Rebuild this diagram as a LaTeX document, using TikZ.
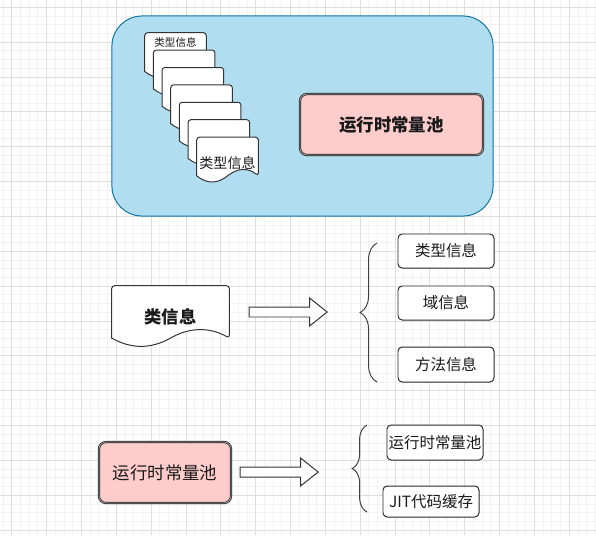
\documentclass[tikz,border=0pt]{standalone}
\usepackage{fontspec}
\setmainfont{Noto Sans CJK SC}
\usepackage{tikz}
\usetikzlibrary{arrows.meta,
                positioning,
                shapes.arrows,
                calc, backgrounds,
                decorations.pathreplacing}

\definecolor{areablue}{HTML}{B1DDF0}
\definecolor{areaedge}{HTML}{10739E}
\definecolor{poolpink}{HTML}{FFCCCC}

\pgfdeclarelayer{docs}
\pgfsetlayers{background,docs,main}

% 文档形状 (底边为波浪线)
\newcommand\docshape[1]{%
  \begin{pgfonlayer}{docs}
  \draw[docline] let \p1=(#1.south west), \p2=(#1.north east),
      \n1={0.3*(\y2-\y1)}, \n2={\x2-\x1} in
    (\x1,{\y1+0.5*\n1}) [rounded corners=2pt] -- (\x1,\y2) -- (\x2,\y2)
    -- (\x2,{\y1+0.5*\n1}) [sharp corners]
    .. controls ({\x2-\n2/6},{\y1+1.1*\n1}) and ({\x1+2*\n2/3},{\y1+1.1*\n1}) .. ({\x1+0.5*\n2},{\y1+0.5*\n1})
    .. controls ({\x1+\n2/3},{\y1-0.1*\n1}) and ({\x1+\n2/6},{\y1-0.1*\n1}) .. cycle;
  \end{pgfonlayer}}

\begin{document}
\begin{tikzpicture}[
        x=0.025cm, y=-0.025cm,
        font=\fontsize{11}{13}\selectfont,
        text=black!90,
        grid minor/.style={draw=black!5, line width=0.6pt},
        grid major/.style={draw=black!13, line width=0.6pt},
        area box/.style={
            rectangle,
            rounded corners=0.75cm,
            draw=areaedge,
            fill=areablue,
            line width=0.7pt,
            minimum width=9.525cm,
            minimum height=5cm
        },
        pool box/.style={
            rectangle,
            rounded corners=5pt,
            draw=black!85,
            double=black!40,
            double distance=0.6pt,
            fill=poolpink,
            line width=0.5pt,
            minimum height=1.525cm
        },
        doc box/.style={rectangle, inner sep=0pt},
        docline/.style={draw=black!80, fill=white, line width=0.7pt},
        info box/.style={
            rectangle,
            rounded corners=3pt,
            draw=black!85,
            fill=white,
            line width=0.7pt,
            inner xsep=1pt,
            minimum width=2.4cm
        },
        block arrow/.style={
            single arrow,
            draw=black!80,
            fill=white,
            line width=0.7pt,
            inner xsep=0pt,
            inner ysep=0.1125cm,
            minimum height=1.95cm,
            single arrow head extend=0.225cm,
            single arrow tip angle=77
        },
        bracket/.style={
            decorate,
            decoration={brace, amplitude=12pt},
            draw=black!75,
            line width=0.7pt
        }
    ]
    \useasboundingbox (0,0) rectangle (596,535);

    % 背景网格
    \begin{scope}[on background layer]
        \fill[white] (0,0) rectangle (596,535);
        \foreach \i in {-1,...,67}
            \draw[grid minor] ({11.7+8.7125*\i},0) -- ({11.7+8.7125*\i},535);
        \foreach \j in {-1,...,60}
            \draw[grid minor] (0,{7.3+8.7125*\j}) -- (596,{7.3+8.7125*\j});
        \foreach \i in {0,...,16}
            \draw[grid major] ({11.7+34.85*\i},0) -- ({11.7+34.85*\i},535);
        \foreach \j in {0,...,15}
            \draw[grid major] (0,{7.3+34.85*\j}) -- (596,{7.3+34.85*\j});
        \node[area box] (area) at (302.5,116) {};
    \end{scope}

    % 类型信息堆叠
    \foreach \i in {0,...,6} {
        \node[doc box, minimum width=1.525cm, minimum height=1.125cm] (T\i) at ({175.5+8.67*\i},{55.5+17.4*\i}) {};
        \docshape{T\i}
    }
    \node[anchor=north, inner sep=3pt, font=\fontsize{7.5}{9}\selectfont] (T0text) at (T0.north) {类型信息};
    \node[font=\fontsize{10}{12}\selectfont] (T6text) at ([yshift=-2.5pt]T6.center) {类型信息};

    \node[pool box, minimum width=4.575cm, font=\bfseries\fontsize{12.4}{14}\selectfont] (pool1) at (391.5,124.5) {运行时常量池};

    % 类信息
    \node[doc box, minimum width=2.925cm, minimum height=1.525cm, font=\bfseries\fontsize{12.3}{14}\selectfont] (cls) at (170.5,316.5) {类信息};
    \docshape{cls}
    \node[block arrow] (arr1) at (285,312) {};
    \coordinate (br1 top) at (377,243);
    \coordinate (br1 bot) at (377,382);
    \draw[bracket] (br1 bot) -- (br1 top);
    \node[info box, minimum height=0.85cm] (type) at (446,251) {类型信息};
    \node[info box, minimum height=0.85cm] (field) at (446,303) {域信息};
    \node[info box, minimum height=0.875cm] (method) at (446,364.5) {方法信息};

    % 运行时常量池
    \node[pool box, minimum width=3.3cm, font=\fontsize{12.4}{14}\selectfont] (pool2) at (165,472.5) {运行时常量池};
    \node[block arrow] (arr2) at (276,472) {};
    \coordinate (br2 top) at (367,425);
    \coordinate (br2 bot) at (367,512);
    \draw[bracket, decoration={amplitude=10.5pt}] (br2 bot) -- (br2 top);
    \node[info box, minimum height=0.875cm] (rcp) at (435,442.5) {运行时常量池};
    \node[info box, minimum height=0.775cm] (jit) at (431,501.5) {JIT代码缓存};

\end{tikzpicture}
\end{document}
